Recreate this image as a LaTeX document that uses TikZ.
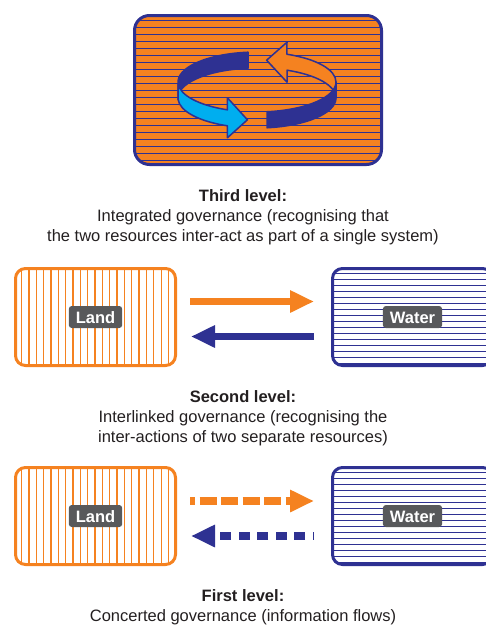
\documentclass[tikz,border=0pt]{standalone}
\usepackage{fontspec}
\setmainfont{Liberation Sans}
\usetikzlibrary{arrows.meta}

\definecolor{landorange}{RGB}{245,130,32}
\definecolor{waterblue}{RGB}{46,49,146}
\definecolor{flowcyan}{RGB}{0,174,239}
\definecolor{taggrey}{RGB}{88,89,91}
\definecolor{inkblack}{RGB}{35,31,32}

\tikzset{ringbox/.style = {shape = rectangle,
                           draw = waterblue,
                           fill = landorange,
                           line width = 3pt,
                           rounded corners = 15pt,
                           minimum width = 247pt,
                           minimum height = 149pt,
                           path picture = {\foreach \k in {0,...,20}
                             \draw[waterblue, line width = 1.3pt]
                               ([yshift = {-5pt-\k*7pt}]path picture bounding box.north west) --
                               ([yshift = {-5pt-\k*7pt}]path picture bounding box.north east);}},
         landbox/.style = {shape = rectangle,
                           draw = landorange,
                           line width = 3pt,
                           rounded corners = 10pt,
                           minimum width = 160pt,
                           minimum height = 97pt,
                           path picture = {\foreach \k in {0,...,20}
                             \draw[landorange, line width = 1.3pt]
                               ([xshift = {6pt+\k*7.35pt}]path picture bounding box.north west) --
                               ([xshift = {6pt+\k*7.35pt}]path picture bounding box.south west);}},
         waterbox/.style = {shape = rectangle,
                            draw = waterblue,
                            line width = 3pt,
                            rounded corners = 10pt,
                            minimum width = 160pt,
                            minimum height = 97pt,
                            path picture = {\foreach \k in {0,...,15}
                              \draw[waterblue, line width = 1.3pt]
                                ([yshift = {-5pt-\k*6pt}]path picture bounding box.north west) --
                                ([yshift = {-5pt-\k*6pt}]path picture bounding box.north east);}},
         tag/.style = {fill = taggrey,
                       text = white,
                       rounded corners = 3pt,
                       inner xsep = 7pt,
                       inner ysep = 5pt,
                       text height = 12pt,
                       text depth = 0pt,
                       font = \fontsize{16.5}{20}\selectfont\bfseries},
         leveltext/.style = {align = center,
                             anchor = north,
                             inner sep = 0pt,
                             text = inkblack,
                             font = \fontsize{16.5}{20}\selectfont},
         ribbon/.style = {draw = waterblue,
                          line width = 1.5pt,
                          line join = round},
         flow/.style = {line width = 7.5pt,
                        -{Triangle[length = 24pt, width = 21pt]}}}

\begin{document}
\begin{tikzpicture}[x = 1pt, y = 1pt]
		\useasboundingbox (0,0) rectangle (486,-625);

		% third level: the two resources turning as one ring
		\node[ringbox] (ring) at (258,-90) {};
		\path[ribbon, fill = waterblue] (257,-82) ++(96.5:79 and 30)
			arc[start angle = 96.5, end angle = 183, x radius = 79, y radius = 30] -- ++(0,-16)
			arc[start angle = 183, end angle = 96.5, x radius = 79, y radius = 30] -- cycle;
		\path[ribbon, fill = landorange] (257,-82) ++(0:79 and 30)
			arc[start angle = 0, end angle = 67.7, x radius = 79, y radius = 30]
			-- (287,-42.2) -- (266.6,-60.2) -- (287,-82.2) -- (287,-70.2)
			arc[start angle = 67.7, end angle = 0, x radius = 79, y radius = 30] -- cycle;
		\path[ribbon, fill = flowcyan] (257,-82) ++(183:79 and 30)
			arc[start angle = 183, end angle = 248, x radius = 79, y radius = 30]
			-- (227.4,-97.8) -- (247.4,-119.8) -- (227.4,-137.8) -- (227.4,-125.8)
			arc[start angle = 248, end angle = 183, x radius = 79, y radius = 30] -- cycle;
		\path[ribbon, fill = waterblue] (257,-82) ++(277.3:79 and 30)
			arc[start angle = 277.3, end angle = 360, x radius = 79, y radius = 30] -- ++(0,-16)
			arc[start angle = 360, end angle = 277.3, x radius = 79, y radius = 30] -- cycle;
		\node[leveltext] (third) at (243,-189.5) {\textbf{Third level:}\\
			Integrated governance (recognising that\\
			the two resources inter-act as part of a single system)};

		% second level
		\node[landbox] (land2) at (95.5,-317) {};
		\node[waterbox] (water2) at (412.5,-317) {};
		\node[tag] (landtag2) at (land2) {Land};
		\node[tag] (watertag2) at (water2) {Water};
		\path ([yshift = 15.5pt]land2.east) edge[flow, landorange, shorten <= 13pt, shorten >= 17pt] ([yshift = 15.5pt]water2.west);
		\path ([yshift = -19.5pt]water2.west) edge[flow, waterblue, shorten <= 17pt, shorten >= 14pt] ([yshift = -19.5pt]land2.east);
		\node[leveltext] (second) at (243,-390.5) {\textbf{Second level:}\\
			Interlinked governance (recognising the\\
			inter-actions of two separate resources)};

		% first level
		\node[landbox] (land1) at (95.5,-516) {};
		\node[waterbox] (water1) at (412.5,-516) {};
		\node[tag] (landtag1) at (land1) {Land};
		\node[tag] (watertag1) at (water1) {Water};
		\path ([yshift = 15pt]land1.east) edge[flow, landorange, dash pattern = on 17pt off 4.5pt, dash phase = 12pt,
			shorten <= 13pt, shorten >= 17pt] ([yshift = 15pt]water1.west);
		\path ([yshift = -20pt]water1.west) edge[flow, waterblue, dash pattern = on 11pt off 7.5pt, dash phase = 9.5pt,
			shorten <= 17pt, shorten >= 14pt] ([yshift = -20pt]land1.east);
		\node[leveltext] (first) at (243,-589.5) {\textbf{First level:}\\
			Concerted governance (information flows)};
	\end{tikzpicture}
\end{document}
